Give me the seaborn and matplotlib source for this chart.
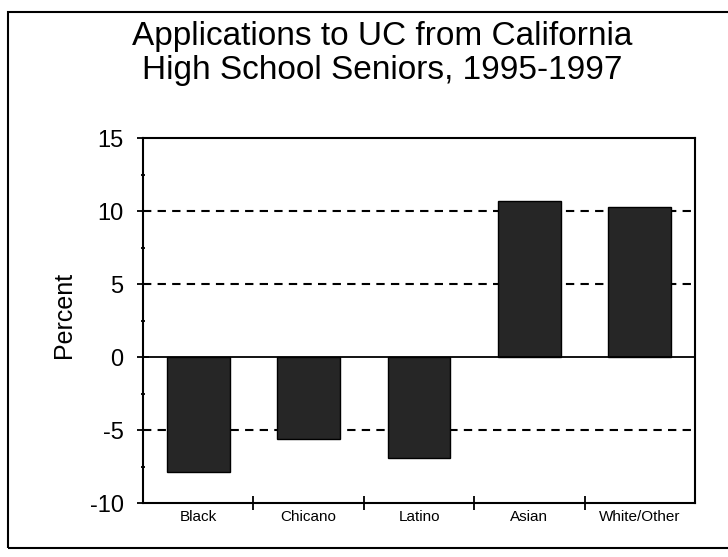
import matplotlib
matplotlib.use("Agg")
import matplotlib.pyplot as plt
import seaborn as sns
import pandas as pd
from matplotlib.patches import Rectangle
from matplotlib.ticker import MultipleLocator, FixedLocator

groups = ["Black", "Chicano", "Latino", "Asian", "White/Other"]
pct_change = [-7.9, -5.6, -6.9, 10.7, 10.3]
y_ticks = [-10, -5, 0, 5, 10, 15]

df = pd.DataFrame({"group": groups, "pct": pct_change})

sns.set_style("white")
plt.rcParams["font.family"] = ["Liberation Sans", "DejaVu Sans"]
plt.rcParams["text.color"] = "black"
plt.rcParams["xtick.color"] = "black"
plt.rcParams["ytick.color"] = "black"

fig = plt.figure(figsize=(7.28, 5.57), dpi=100)
ax = fig.add_axes([0.1964, 0.0969, 0.7583, 0.6553])

sns.barplot(data=df, x="group", y="pct", color="#262626", edgecolor="black",
            linewidth=1, width=0.57, saturation=1, ax=ax)

ax.set_ylim(-10, 15)
ax.set_xlim(-0.5, 4.5)
ax.set_yticks(y_ticks)
ax.yaxis.set_minor_locator(MultipleLocator(2.5))
ax.set_yticklabels([str(t) for t in y_ticks], fontsize=17)
ax.tick_params(axis="y", which="major", direction="inout", length=8, width=1.3, left=True, pad=10)
ax.tick_params(axis="y", which="minor", direction="inout", length=3, width=1.3, left=True)

# x ticks sit between the categories, labels centred under bars
ax.xaxis.set_major_locator(FixedLocator([0.5, 1.5, 2.5, 3.5]))
ax.set_xticklabels([])
ax.xaxis.set_minor_locator(FixedLocator(range(len(groups))))
ax.set_xticklabels(groups, minor=True, fontsize=11)
ax.tick_params(axis="x", which="major", direction="inout", length=10, width=1.3, bottom=True)
ax.tick_params(axis="x", which="minor", length=0, pad=5)

for y in [5, 10, -5]:
    ax.axhline(y, color="black", linestyle=(0, (4, 3)), linewidth=1.5, zorder=0)
ax.axhline(0, color="black", linewidth=1.3, zorder=3)

for s in ax.spines.values():
    s.set_color("black")
    s.set_linewidth(1.5)

ax.set_xlabel("")
ax.set_ylabel("")
fig.text(0.088, 0.4345, "Percent", rotation=90, ha="center", va="center", fontsize=18)

fig.text(0.525, 0.962, "Applications to UC from California\nHigh School Seniors, 1995-1997",
         ha="center", va="top", fontsize=24, linespacing=1.13)

# page frame (left, top, bottom edges visible)
fig.patches.append(Rectangle((0.011, 0.017), 1.05, 0.962, transform=fig.transFigure,
                             fill=False, edgecolor="black", linewidth=1.5))

fig.savefig("out.png", dpi=100)
